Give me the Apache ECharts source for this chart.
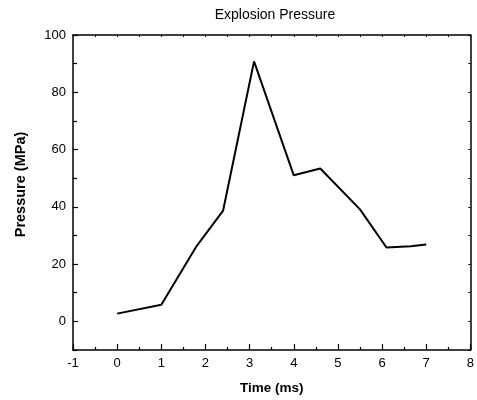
<!DOCTYPE html>
<html>
<head>
<meta charset="utf-8">
<script src="https://cdn.jsdelivr.net/npm/echarts@6/dist/echarts.min.js"></script>
<style>
  html, body { margin: 0; padding: 0; background: #fff; }
  #chart { width: 477px; height: 400px; }
</style>
</head>
<body>
<div id="chart"></div>
<script>
// Measured pressure trace
const timeMs = [0, 1, 1.8, 2.4, 3.1, 4.0, 4.6, 5.5, 6.1, 6.65, 7.0];
const pressureMPa = [2.7, 5.8, 26.3, 38.7, 90.8, 51.0, 53.4, 39.1, 25.8, 26.2, 26.8];

// Axis ticks
const yMajorTicks = [0, 20, 40, 60, 80, 100];
const yMinorTicks = [-10, 10, 30, 50, 70, 90];
const yFineTicks = [-10, 0, 10, 20, 30, 40, 50, 60, 70, 80, 90, 100];

const FONT = 'Liberation Sans, Arial, sans-serif';
const AXIS_COLOR = '#000';

const chart = echarts.init(document.getElementById('chart'));

chart.setOption({
  animation: false,
  backgroundColor: '#fff',
  title: {
    text: 'Explosion Pressure',
    left: 270,
    textAlign: 'center',
    top: 3,
    textStyle: { fontFamily: FONT, fontSize: 14, fontWeight: 'normal', color: '#000' }
  },
  grid: { left: 73, right: 6, top: 35, bottom: 49, containLabel: false },
  xAxis: [
    {
      type: 'value', position: 'bottom', min: -1, max: 8, interval: 1,
      name: 'Time (ms)', nameLocation: 'middle', nameGap: 31,
      nameTextStyle: { fontFamily: FONT, fontSize: 13.5, fontWeight: 'bold', color: '#000' },
      axisLine: { show: true, onZero: false, lineStyle: { color: AXIS_COLOR, width: 1.5 } },
      axisTick: { show: true, inside: true, length: 6, lineStyle: { color: AXIS_COLOR, width: 1.2 } },
      minorTick: { show: true, splitNumber: 2, length: 3, lineStyle: { color: AXIS_COLOR, width: 1.2 } },
      axisLabel: { show: true, margin: 7, fontFamily: FONT, fontSize: 13, color: '#000' },
      splitLine: { show: false }
    },
    {
      type: 'value', position: 'top', min: -1, max: 8, interval: 0.5,
      axisLine: { show: true, onZero: false, lineStyle: { color: AXIS_COLOR, width: 1.5 } },
      axisTick: { show: true, inside: true, length: 2, lineStyle: { color: AXIS_COLOR, width: 1 } },
      axisLabel: { show: false },
      splitLine: { show: false }
    }
  ],
  yAxis: [
    {
      type: 'value', position: 'left', min: -10, max: 100,
      name: 'Pressure (MPa)', nameLocation: 'middle', nameGap: 45,
      nameTextStyle: { fontFamily: FONT, fontSize: 14.5, fontWeight: 'bold', color: '#000', padding: [0, 0, 0, 16] },
      axisLine: { show: true, onZero: false, lineStyle: { color: AXIS_COLOR, width: 1.5 } },
      axisTick: { show: true, inside: true, length: 5, customValues: yMajorTicks, lineStyle: { color: AXIS_COLOR, width: 1.2 } },
      axisLabel: { show: true, margin: 7, customValues: yMajorTicks, fontFamily: FONT, fontSize: 13, color: '#000' },
      splitLine: { show: false }
    },
    {
      type: 'value', position: 'left', min: -10, max: 100,
      axisLine: { show: false, onZero: false },
      axisTick: { show: true, inside: true, length: 4, customValues: yMinorTicks, lineStyle: { color: AXIS_COLOR, width: 1.2 } },
      axisLabel: { show: false },
      splitLine: { show: false }
    },
    {
      type: 'value', position: 'right', min: -10, max: 100,
      axisLine: { show: true, onZero: false, lineStyle: { color: AXIS_COLOR, width: 1.5 } },
      axisTick: { show: true, inside: true, length: 2, customValues: yFineTicks, lineStyle: { color: AXIS_COLOR, width: 1 } },
      axisLabel: { show: false },
      splitLine: { show: false }
    }
  ],
  series: [
    {
      type: 'line',
      xAxisIndex: 0,
      yAxisIndex: 0,
      data: timeMs.map((t, i) => [t, pressureMPa[i]]),
      showSymbol: false,
      symbol: 'none',
      lineStyle: { color: '#000', width: 2 },
      silent: true
    }
  ]
});
</script>
</body>
</html>
